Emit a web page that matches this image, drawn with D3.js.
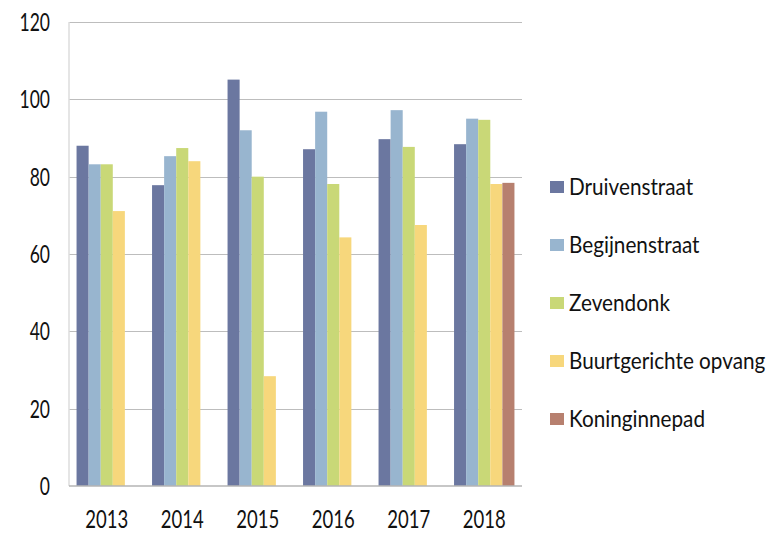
<!DOCTYPE html>
<meta charset="utf-8">
<style>
  body { margin: 0; background: #fff; }
  text { font-family: Lato, "Open Sans", sans-serif; fill: #111; }
  .grid line { stroke: #bdbdbd; stroke-width: 1.2; shape-rendering: crispEdges; }
  .grid path { display: none; }
</style>
<div class="chart"></div>
<script src="https://cdn.jsdelivr.net/npm/d3@7/dist/d3.min.js"></script>
<script>
  var years = ["2013", "2014", "2015", "2016", "2017", "2018"];
  var series = ["Druivenstraat", "Begijnenstraat", "Zevendonk", "Buurtgerichte opvang", "Koninginnepad"];
  var colors = ["#6b77a0", "#98b5cf", "#c9d877", "#f7d77c", "#b7806f"];

  var druivenstraat = [88.0, 77.8, 105.1, 87.1, 89.7, 88.4];
  var begijnenstraat = [83.2, 85.3, 92.0, 96.8, 97.2, 95.0];
  var zevendonk = [83.2, 87.4, 80.0, 78.1, 87.7, 94.7];
  var buurtgericht = [71.1, 84.0, 28.4, 64.3, 67.5, 78.1];
  var koninginnepad = [null, null, null, null, null, 78.4];
  var values = [druivenstraat, begijnenstraat, zevendonk, buurtgericht, koninginnepad];

  var yTicks = [0, 20, 40, 60, 80, 100, 120];

  var width = 776, height = 533,
      margin = {top: 22, right: 254, bottom: 47, left: 69};
  var w = width - margin.left - margin.right,
      h = height - margin.top - margin.bottom;

  var svg = d3.select(".chart").append("svg")
      .attr("width", width)
      .attr("height", height);

  var g = svg.append("g")
      .attr("transform", "translate(" + margin.left + "," + margin.top + ")");

  var x0 = d3.scaleBand().domain(years).range([0, w]).paddingInner(0.2).paddingOuter(0.1);
  var x1 = d3.scaleBand().domain(series).range([0, x0.bandwidth()]);
  var y = d3.scaleLinear().domain([0, 120]).range([h, 0]);

  // squeeze text horizontally, the original font is narrow
  function squeeze(sel, k) {
    sel.each(function() {
      var len = this.getComputedTextLength();
      d3.select(this).attr("textLength", len * k).attr("lengthAdjust", "spacingAndGlyphs");
    });
  }

  // gridlines
  g.append("g")
      .attr("class", "grid")
      .call(d3.axisLeft(y).tickValues(yTicks.slice(1)).tickSize(-w).tickFormat(""));

  // left axis line (light)
  g.append("line")
      .attr("x1", 0).attr("x2", 0)
      .attr("y1", y(120)).attr("y2", y(0))
      .attr("stroke", "#dcdcdc").attr("stroke-width", 1.5);

  // bars
  series.forEach(function(s, i) {
    g.append("g").selectAll("rect")
      .data(years.map(function(yr, j) { return {year: yr, v: values[i][j]}; }).filter(function(d) { return d.v != null; }))
      .enter().append("rect")
      .attr("x", function(d) { return x0(d.year) + x1(s); })
      .attr("width", x1.bandwidth())
      .attr("y", function(d) { return y(d.v); })
      .attr("height", function(d) { return y(0) - y(d.v); })
      .attr("fill", colors[i]);
  });

  // bottom axis line
  g.append("line")
      .attr("x1", 0).attr("x2", w)
      .attr("y1", y(0)).attr("y2", y(0))
      .attr("stroke", "#b5b5b5").attr("stroke-width", 1.5);

  // y labels
  g.selectAll(".ylab")
      .data(yTicks)
      .enter().append("text")
      .attr("class", "ylab")
      .attr("x", -19)
      .attr("y", function(d) { return y(d); })
      .attr("dy", "0.36em")
      .attr("text-anchor", "end")
      .style("font-size", "25px")
      .call(function(sel) { sel.text(function(d) { return d; }); })
      .call(squeeze, 0.7);

  // x labels
  g.selectAll(".xlab")
      .data(years)
      .enter().append("text")
      .attr("class", "xlab")
      .attr("x", function(d) { return x0(d) + x0.bandwidth() / 2; })
      .attr("y", h + 42)
      .attr("text-anchor", "middle")
      .style("font-size", "25px")
      .text(function(d) { return d; })
      .call(squeeze, 0.74);

  // legend
  var legend = svg.append("g")
      .attr("transform", "translate(550,187)");

  var item = legend.selectAll(".item")
      .data(series)
      .enter().append("g")
      .attr("class", "item")
      .attr("transform", function(d, i) { return "translate(0," + (i * 58) + ")"; });

  item.append("rect")
      .attr("x", 0).attr("y", -6)
      .attr("width", 14).attr("height", 12)
      .attr("fill", function(d, i) { return colors[i]; });

  item.append("text")
      .attr("x", 19)
      .attr("y", 0)
      .attr("dy", "0.36em")
      .style("font-size", "23px")
      .text(function(d) { return d; })
      .call(squeeze, 0.9);
</script>
